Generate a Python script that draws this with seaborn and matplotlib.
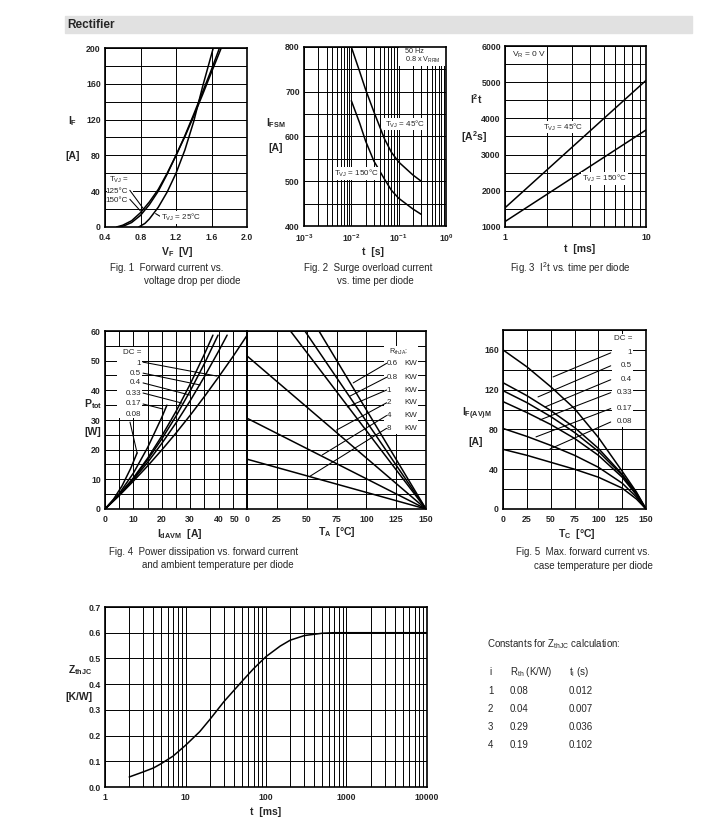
import numpy as np
import pandas as pd
import matplotlib.pyplot as plt
import seaborn as sns
from matplotlib.patches import Rectangle
from matplotlib.ticker import MultipleLocator, LogLocator, NullFormatter

# ---------------- Fig. 1  forward current vs. voltage drop ----------------
vf_25 = [0.78, 0.85, 0.90, 1.00, 1.10, 1.20, 1.30, 1.40, 1.50, 1.62]
if_25 = [0, 4, 9, 22, 39, 60, 86, 118, 157, 200]
vf_125 = [0.56, 0.62, 0.70, 0.80, 0.90, 1.00, 1.10, 1.20, 1.30, 1.40, 1.50, 1.60, 1.69]
if_125 = [0, 1.5, 5, 13, 25, 40, 59, 80, 102, 126, 151, 176, 200]
vf_150 = [0.53, 0.60, 0.70, 0.80, 0.90, 1.00, 1.10, 1.20, 1.30, 1.40, 1.50, 1.60, 1.71]
if_150 = [0, 2, 7, 16, 28, 42, 60, 80, 101, 124, 148, 173, 200]

# ---------------- Fig. 2  surge overload current ----------------
t_surge = [0.01, 0.015, 0.02, 0.03, 0.05, 0.07, 0.1, 0.2, 0.3]
ifsm_45 = [800, 745, 705, 655, 595, 565, 543, 514, 500]
ifsm_150 = [680, 630, 590, 545, 505, 480, 462, 438, 426]

# ---------------- Fig. 3  I2t vs. time ----------------
t_i2t = [1, 10]
i2t_45 = [1530, 5050]
i2t_150 = [1150, 3680]

# ---------------- Fig. 4  power dissipation ----------------
dc_labels = ['1', '0.5', '0.4', '0.33', '0.17', '0.08']
idavm_1 = [0, 5, 10, 15, 20, 25, 30, 35, 40, 45, 50]
ptot_1 = [0, 4.5, 9.4, 14.5, 19.9, 25.6, 31.6, 37.9, 44.5, 51.3, 58.5]
idavm_05 = [0, 5, 10, 15, 20, 25, 30, 35, 40, 43]
ptot_05 = [0, 4.7, 9.9, 15.7, 22.1, 29.0, 36.5, 44.6, 53.2, 58.6]
idavm_04 = [0, 5, 10, 15, 20, 25, 30, 35, 39.8]
ptot_04 = [0, 4.8, 10.3, 16.6, 23.6, 31.3, 39.8, 49.0, 58.6]
idavm_033 = [0, 5, 10, 15, 20, 25, 30, 35, 38]
ptot_033 = [0, 4.8, 10.5, 17.1, 24.6, 32.9, 42.1, 52.2, 58.6]
idavm_017 = [0, 5, 10, 15, 20, 21.8]
ptot_017 = [0, 5.2, 12.1, 20.7, 30.9, 35.0]
idavm_008 = [0, 3, 6, 9, 11.3]
ptot_008 = [0, 3.3, 7.8, 13.6, 18.9]

rth_labels = ['0.6', '0.8', '1', '2', '4', '8']
rth_ta_start = [60.3, 48.5, 36.4, 0, 0, 0]
rth_p_start = [60, 60, 60, 51.6, 30.6, 16.8]
ta_end = 150

# ---------------- Fig. 5  max forward current vs. case temperature ----------------
tc = [0, 25, 50, 75, 100, 125, 140, 150]
ifav_1 = [160, 143, 123, 101, 72, 38, 17, 0]
ifav_05 = [127, 114, 99, 82, 61, 35, 16, 0]
ifav_04 = [119, 107, 93, 77, 58, 34, 15, 0]
ifav_033 = [108, 97, 85, 71, 54, 32, 14, 0]
ifav_017 = [81, 73, 64, 54, 42, 26, 12, 0]
ifav_008 = [60, 54, 47, 40, 32, 21, 10, 0]

# ---------------- Fig. 6  transient thermal impedance ----------------
t_zth = [2, 3, 4, 5, 7, 10, 15, 20, 30, 50, 70, 100, 150, 200, 300, 500, 700, 1000, 10000]
zth = [0.039, 0.059, 0.074, 0.091, 0.120, 0.162, 0.215, 0.262, 0.332, 0.410, 0.460,
       0.507, 0.548, 0.571, 0.589, 0.598, 0.600, 0.600, 0.600]

tab_i = ['1', '2', '3', '4']
tab_rth = ['0.08', '0.04', '0.29', '0.19']
tab_ti = ['0.012', '0.007', '0.036', '0.102']

# ---------------- style ----------------
sns.set_style('white')
plt.rcParams['font.family'] = ['Liberation Sans', 'DejaVu Sans']
plt.rcParams['mathtext.fontset'] = 'custom'
plt.rcParams['mathtext.rm'] = 'Liberation Sans'
plt.rcParams['mathtext.it'] = 'Liberation Sans:italic'
plt.rcParams['mathtext.bf'] = 'Liberation Sans:bold'
plt.rcParams['mathtext.default'] = 'rm'

W, H = 709, 821
fig = plt.figure(figsize=(W / 100, H / 100), dpi=100)
TICK = 6.3
LAB = 7.5


def box(l, t, r, b):
    return fig.add_axes([l / W, 1 - b / H, (r - l) / W, (b - t) / H])


def ftext(x, y, s, size=7, **kw):
    kw.setdefault('va', 'center')
    fig.text(x / W, 1 - y / H, s, fontsize=size, **kw)


def frame(ax):
    ax.set_axisbelow(True)
    ax.grid(True, which='both', color='black', lw=0.7)
    ax.tick_params(which='both', length=0, labelsize=TICK)
    ax.tick_params(axis='x', pad=4.5)
    ax.tick_params(axis='y', pad=3)
    for sp in ax.spines.values():
        sp.set_visible(True)
        sp.set_color('black')
        sp.set_linewidth(1.2)


def curve(ax, x, y, lw=1.1):
    sns.lineplot(x=x, y=y, ax=ax, color='black', linewidth=lw, estimator=None, sort=False)


def lead(ax, p, q):
    ax.plot([p[0], q[0]], [p[1], q[1]], color='black', lw=0.75, zorder=2)


def tag(ax, x, y, s, size=5.8, bg=True, **kw):
    kw.setdefault('va', 'center')
    if bg:
        kw['bbox'] = dict(fc='white', ec='none', pad=0.6)
    ax.text(x, y, s, fontsize=size, zorder=3, **kw)


def blank(ax, x0, y0, x1, y1):
    ax.add_patch(Rectangle((x0, y0), x1 - x0, y1 - y0, fc='white', ec='none', zorder=1.5))


def ticks(ax, axis, vals, labels):
    if axis == 'x':
        ax.set_xticks(vals, labels, fontweight='bold', fontsize=TICK)
    else:
        ax.set_yticks(vals, labels, fontweight='bold', fontsize=TICK)


# header band
fig.patches.append(Rectangle((65 / W, 1 - 33 / H), (692 - 65) / W, 17 / H,
                             transform=fig.transFigure, color='#e1e1e1', zorder=0))
ftext(67, 25, 'Rectifier', size=8.5, fontweight='bold')

# ---------------- Fig. 1 ----------------
ax1 = box(105, 48, 247, 227)
ax1.set_xlim(0.4, 2.0)
ax1.set_ylim(0, 200)
ticks(ax1, 'x', [0.4, 0.8, 1.2, 1.6, 2.0], ['0.4', '0.8', '1.2', '1.6', '2.0'])
ticks(ax1, 'y', list(range(0, 201, 40)), [str(v) for v in range(0, 201, 40)])
ax1.yaxis.set_minor_locator(MultipleLocator(20))
frame(ax1)
curve(ax1, vf_25, if_25)
curve(ax1, vf_125, if_125)
curve(ax1, vf_150, if_150)
blank(ax1, 0.42, 25, 0.71, 58)
tag(ax1, 0.45, 53, '$T_{VJ}$ =', bg=False)
tag(ax1, 0.41, 40, '125°C', bg=False)
tag(ax1, 0.41, 30, '150°C', bg=False)
lead(ax1, (0.68, 41), (0.84, 19.4))
lead(ax1, (0.68, 31), (0.80, 17.9))
tag(ax1, 1.03, 11, '$T_{VJ}$ = 25°C')
lead(ax1, (1.02, 12), (0.97, 15))
ftext(73, 121, r'$\mathbf{I_F}$', size=LAB, ha='center')
ftext(73, 156, '[A]', size=LAB, ha='center', fontweight='bold')
ftext(177, 252, r'$\mathbf{V_F}$  [V]', size=LAB, ha='center', fontweight='bold')
ftext(110, 268, 'Fig. 1  Forward current vs.')
ftext(144, 281, 'voltage drop per diode')

# ---------------- Fig. 2 ----------------
ax2 = box(304, 47, 446, 226)
ax2.set_xscale('log')
ax2.set_xlim(1e-3, 1)
ax2.set_ylim(400, 800)
ticks(ax2, 'x', [1e-3, 1e-2, 1e-1, 1],
      [r'$\mathbf{10^{-3}}$', r'$\mathbf{10^{-2}}$', r'$\mathbf{10^{-1}}$', r'$\mathbf{10^{0}}$'])
ax2.xaxis.set_minor_locator(LogLocator(base=10, subs=range(2, 10)))
ax2.xaxis.set_minor_formatter(NullFormatter())
ticks(ax2, 'y', list(range(400, 801, 100)), [str(v) for v in range(400, 801, 100)])
ax2.yaxis.set_minor_locator(MultipleLocator(50))
frame(ax2)
curve(ax2, t_surge, ifsm_45)
curve(ax2, t_surge, ifsm_150)
blank(ax2, 0.1, 758, 1.0, 800)
tag(ax2, 0.137, 789, '50 Hz', size=5.2, bg=False)
tag(ax2, 0.137, 772, '0.8 x $V_{RRM}$', size=5.2, bg=False)
tag(ax2, 0.052, 628, '$T_{VJ}$ = 45°C')
tag(ax2, 0.0044, 518, '$T_{VJ}$ = 150°C')
ftext(276, 123, r'$\mathbf{I_{FSM}}$', size=LAB, ha='center')
ftext(276, 148, '[A]', size=LAB, ha='center', fontweight='bold')
ftext(373, 252, 't  [s]', size=LAB, ha='center', fontweight='bold')
ftext(304, 268, 'Fig. 2  Surge overload current')
ftext(337, 281, 'vs. time per diode')

# ---------------- Fig. 3 ----------------
ax3 = box(505, 46, 646, 227)
ax3.set_xscale('log')
ax3.set_xlim(1, 10)
ax3.set_ylim(1000, 6000)
ticks(ax3, 'x', [1, 10], ['1', '10'])
ax3.xaxis.set_minor_locator(LogLocator(base=10, subs=range(2, 10)))
ax3.xaxis.set_minor_formatter(NullFormatter())
ticks(ax3, 'y', list(range(1000, 6001, 1000)), [str(v) for v in range(1000, 6001, 1000)])
ax3.yaxis.set_minor_locator(MultipleLocator(500))
frame(ax3)
curve(ax3, t_i2t, i2t_45)
curve(ax3, t_i2t, i2t_150)
tag(ax3, 1.12, 5750, '$V_R$ = 0 V', size=6)
tag(ax3, 1.86, 3760, '$T_{VJ}$ = 45°C')
tag(ax3, 3.52, 2330, '$T_{VJ}$ = 150°C')
ftext(476, 99, r'$\mathbf{I^2t}$', size=LAB, ha='center')
ftext(474, 137, r'[$\mathbf{A^2}$s]', size=LAB, ha='center', fontweight='bold')
ftext(580, 249, 't  [ms]', size=LAB, ha='center', fontweight='bold')
ftext(510, 268, 'Fig. 3  I$^2$t vs. time per diode')

# ---------------- Fig. 4 ----------------
ax4 = box(105, 331, 247, 509)
ax4.set_xlim(0, 50)
ax4.set_ylim(0, 60)
ticks(ax4, 'x', [0, 10, 20, 30, 40, 50], ['0', '10', '20', '30', '40', ''])
ax4.xaxis.set_minor_locator(MultipleLocator(5))
ticks(ax4, 'y', list(range(0, 61, 10)), [str(v) for v in range(0, 61, 10)])
ax4.yaxis.set_minor_locator(MultipleLocator(5))
frame(ax4)
for xs, ys in [(idavm_1, ptot_1), (idavm_05, ptot_05), (idavm_04, ptot_04),
               (idavm_033, ptot_033), (idavm_017, ptot_017), (idavm_008, ptot_008)]:
    curve(ax4, xs, ys)
blank(ax4, 4.2, 30.7, 12.9, 54.5)
tag(ax4, 12.7, 52.6, 'DC =', ha='right', bg=False)
for lab, yy in zip(dc_labels, [49.2, 45.8, 42.5, 39.1, 35.4, 32.0]):
    tag(ax4, 12.7, yy, lab, ha='right', bg=False)
lead(ax4, (13.4, 49.5), (39.4, 44.8))
lead(ax4, (13.4, 45.8), (33.5, 41.8))
lead(ax4, (13.4, 42.5), (29.9, 38.4))
lead(ax4, (13.4, 39.1), (27.1, 35.7))
lead(ax4, (13.4, 35.4), (20.4, 33.7))
lead(ax4, (8.8, 29.3), (11.3, 18.9))
ftext(235, 519, '50', size=TICK, ha='center', fontweight='bold')

ax4r = box(247, 331, 426, 509)
ax4r.set_xlim(0, 150)
ax4r.set_ylim(0, 60)
ticks(ax4r, 'x', list(range(0, 151, 25)), [str(v) for v in range(0, 151, 25)])
ticks(ax4r, 'y', list(range(0, 61, 10)), [''] * 7)
ax4r.yaxis.set_minor_locator(MultipleLocator(5))
frame(ax4r)
for t0, p0 in zip(rth_ta_start, rth_p_start):
    curve(ax4r, [t0, ta_end], [p0, 0])
blank(ax4r, 115, 25.3, 143.5, 55)
tag(ax4r, 119, 52.9, '$R_{thJA}$:', size=5.2, bg=False)
for lab, yy in zip(rth_labels, [49.1, 44.4, 40.1, 35.8, 31.5, 27.2]):
    tag(ax4r, 117.2, yy, lab, bg=False)
    tag(ax4r, 131.6, yy, 'KW', bg=False)
lead(ax4r, (117, 49.1), (89, 42.5))
lead(ax4r, (117, 44.4), (86, 38.0))
lead(ax4r, (117, 40.1), (84, 34.4))
lead(ax4r, (117, 35.8), (75, 26.6))
lead(ax4r, (117, 31.5), (63, 18.2))
lead(ax4r, (117, 27.2), (53, 11.1))
ftext(93, 404, r'$\mathbf{P_{tot}}$', size=LAB, ha='center')
ftext(93, 432, '[W]', size=LAB, ha='center', fontweight='bold')
ftext(180, 534, r'$\mathbf{I_{dAVM}}$  [A]', size=LAB, ha='center', fontweight='bold')
ftext(337, 532, r'$\mathbf{T_A}$  [°C]', size=LAB, ha='center', fontweight='bold')
ftext(109, 552, 'Fig. 4  Power dissipation vs. forward current')
ftext(142, 565, 'and ambient temperature per diode')

# ---------------- Fig. 5 ----------------
ax5 = box(503, 330, 646, 509)
ax5.set_xlim(0, 150)
ax5.set_ylim(0, 180)
ticks(ax5, 'x', list(range(0, 151, 25)), [str(v) for v in range(0, 151, 25)])
ticks(ax5, 'y', list(range(0, 161, 40)), [str(v) for v in range(0, 161, 40)])
ax5.yaxis.set_minor_locator(MultipleLocator(20))
frame(ax5)
for ys in [ifav_1, ifav_05, ifav_04, ifav_033, ifav_017, ifav_008]:
    curve(ax5, tc, ys)
blank(ax5, 114, 82, 136.5, 176)
tag(ax5, 135.5, 171, 'DC =', ha='right', bg=False)
for lab, yy in zip(dc_labels, [157, 144, 130, 117, 101, 87.5]):
    tag(ax5, 135.5, yy, lab, ha='right', bg=False)
lead(ax5, (113, 157), (52.5, 132.8))
lead(ax5, (113, 144), (36.7, 112.7))
lead(ax5, (113, 130), (44.1, 102.6))
lead(ax5, (113, 117), (38.8, 89.6))
lead(ax5, (113, 101), (34.6, 72.5))
lead(ax5, (113, 87.5), (49.3, 60.4))
ftext(477, 414, r'$\mathbf{I_{F(AV)M}}$', size=LAB, ha='center')
ftext(476, 442, '[A]', size=LAB, ha='center', fontweight='bold')
ftext(577, 534, r'$\mathbf{T_C}$  [°C]', size=LAB, ha='center', fontweight='bold')
ftext(516, 552, 'Fig. 5  Max. forward current vs.')
ftext(534, 566, 'case temperature per diode')

# ---------------- Fig. 6 ----------------
ax6 = box(105, 607, 427, 787)
ax6.set_xscale('log')
ax6.set_xlim(1, 10000)
ax6.set_ylim(0, 0.7)
ticks(ax6, 'x', [1, 10, 100, 1000, 10000], ['1', '10', '100', '1000', '10000'])
ax6.xaxis.set_minor_locator(LogLocator(base=10, subs=range(2, 10)))
ax6.xaxis.set_minor_formatter(NullFormatter())
ticks(ax6, 'y', [i / 10 for i in range(8)], [f'{i / 10:.1f}' for i in range(8)])
frame(ax6)
curve(ax6, t_zth, zth)
ftext(80, 670, r'$\mathbf{Z_{thJC}}$', size=LAB, ha='center')
ftext(79, 697, '[K/W]', size=LAB, ha='center', fontweight='bold')
ftext(266, 812, 't  [ms]', size=LAB, ha='center', fontweight='bold')

# ---------------- constants table ----------------
ftext(487, 644, 'Constants for $Z_{thJC}$ calculation:', size=7)
ftext(489, 672, 'i', size=7)
ftext(510, 672, '$R_{th}$ (K/W)', size=7)
ftext(569, 672, '$t_i$ (s)', size=7)
for k, (i_, r_, t_) in enumerate(zip(tab_i, tab_rth, tab_ti)):
    yy = 691 + k * 18
    ftext(488, yy, i_, size=7)
    ftext(510, yy, r_, size=7)
    ftext(569, yy, t_, size=7)

fig.savefig('out.png', dpi=100)
